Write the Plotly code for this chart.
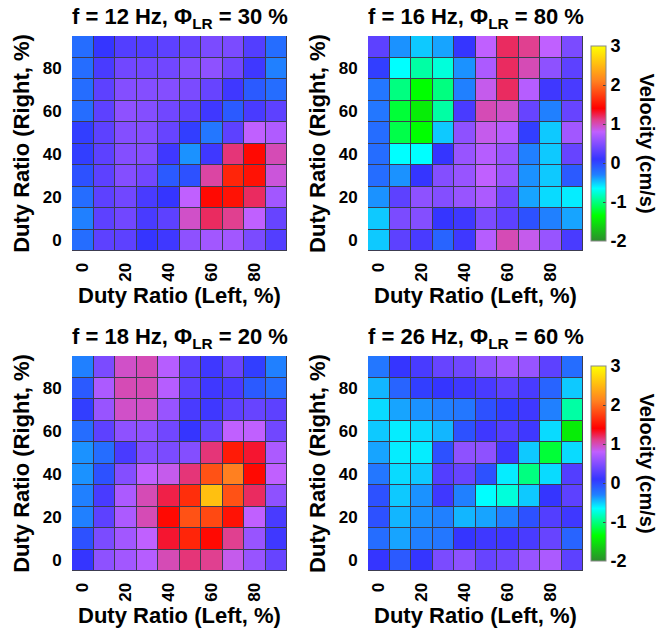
import plotly.graph_objects as go

# Duty ratio grid (cell centres)
duty_left = [0, 10, 20, 30, 40, 50, 60, 70, 80, 90]
duty_right_desc = [90, 80, 70, 60, 50, 40, 30, 20, 10, 0]   # rows listed top -> bottom
tick_vals = [0, 20, 40, 60, 80]
tick_text = ["0", "20", "40", "60", "80"]
cbar_vals = [-2, -1, 0, 1, 2, 3]
cbar_text = ["-2", "-1", "0", "1", "2", "3"]

panel_titles = [
    "f = 12 Hz, Φ<sub>LR</sub> = 30 %",
    "f = 16 Hz, Φ<sub>LR</sub> = 80 %",
    "f = 18 Hz, Φ<sub>LR</sub> = 20 %",
    "f = 26 Hz, Φ<sub>LR</sub> = 60 %",
]

# Velocity (cm/s); each row is one Right duty ratio, from 90 (top) to 0 (bottom)
vel_12hz = [
    [-0.2, 0.1, 0.25, 0.25, 0.3, 0.35, 0.45, 0.45, 0.25, -0.2],
    [-0.2, 0.2, 0.4, 0.4, 0.4, 0.5, 0.55, 0.4, 0.15, -0.3],
    [-0.2, 0.3, 0.5, 0.5, 0.5, 0.45, 0.35, 0.15, -0.1, -0.2],
    [-0.2, 0.3, 0.55, 0.5, 0.4, 0.3, 0.15, -0.1, 0.2, 0.3],
    [0.05, 0.3, 0.5, 0.5, 0.35, 0.05, -0.25, 0.3, 0.8, 0.72],
    [0.05, 0.3, 0.5, 0.5, 0.15, -0.35, 0.15, 1.15, 1.45, 1.0],
    [-0.05, 0.3, 0.5, 0.4, -0.1, -0.05, 1.05, 1.6, 1.5, 0.9],
    [-0.2, 0.3, 0.4, 0.2, 0.1, 0.8, 1.45, 1.5, 1.2, 0.65],
    [-0.3, 0.3, 0.4, 0.2, 0.3, 0.95, 1.2, 1.1, 0.8, 0.35],
    [-0.2, 0.3, 0.3, 0.1, 0.15, 0.55, 0.65, 0.65, 0.45, 0.25],
]

vel_16hz = [
    [0.3, -0.35, -0.5, -0.4, 0.1, 0.8, 1.2, 1.1, 0.8, 0.45],
    [0.05, -0.65, -0.9, -0.75, -0.35, 0.7, 1.2, 1.0, 0.55, 0.3],
    [-0.25, -1.0, -1.35, -1.0, -0.3, 0.85, 1.2, 0.75, 0.15, 0.2],
    [-0.25, -1.2, -1.45, -0.9, 0.2, 1.0, 0.95, 0.35, -0.3, 0.35],
    [-0.2, -1.15, -1.35, -0.5, 0.55, 0.85, 0.75, 0.05, -0.5, 0.65],
    [-0.2, -0.65, -0.65, 0.1, 0.6, 0.75, 0.6, -0.3, -0.5, 0.35],
    [-0.2, -0.35, 0.1, 0.5, 0.6, 0.8, 0.6, -0.35, -0.5, -0.1],
    [-0.35, 0.3, 0.55, 0.5, 0.6, 0.7, 0.4, -0.4, -0.55, -0.6],
    [-0.5, 0.45, 0.5, 0.1, 0.15, 0.45, 0.3, -0.05, -0.3, -0.4],
    [-0.5, 0.3, 0.2, -0.15, 0.15, 0.75, 1.0, 0.85, 0.6, 0.2],
]

vel_18hz = [
    [-0.3, 0.45, 0.95, 1.0, 0.75, 0.3, 0.15, 0.35, 0.05, -0.3],
    [-0.1, 0.7, 1.0, 1.0, 0.75, 0.3, 0.15, 0.2, -0.1, -0.2],
    [0.05, 0.6, 0.95, 0.95, 0.6, 0.2, 0.15, 0.3, 0.35, 0.3],
    [-0.2, 0.3, 0.55, 0.55, 0.4, 0.1, 0.35, 0.8, 0.8, 0.4],
    [-0.35, -0.2, 0.2, 0.5, 0.45, 0.5, 1.15, 1.55, 1.3, 0.7],
    [-0.35, -0.05, 0.5, 0.8, 0.85, 1.15, 1.85, 2.1, 1.45, 0.8],
    [-0.3, 0.2, 0.7, 1.0, 1.25, 1.65, 2.55, 1.85, 1.2, 0.55],
    [-0.3, 0.3, 0.7, 1.0, 1.45, 1.85, 1.8, 1.5, 0.8, 0.2],
    [-0.05, 0.45, 0.65, 0.8, 1.3, 1.6, 1.45, 1.1, 0.6, 0.15],
    [0.1, 0.55, 0.65, 0.75, 1.0, 1.15, 1.1, 0.85, 0.6, 0.35],
]

vel_26hz = [
    [-0.25, 0.1, 0.2, 0.35, 0.4, 0.55, 0.65, 0.6, 0.3, -0.2],
    [-0.45, -0.15, 0.05, 0.1, 0.15, 0.2, 0.3, 0.2, -0.15, -0.5],
    [-0.55, -0.4, -0.35, -0.3, -0.25, -0.05, 0.05, 0.15, -0.3, -0.9],
    [-0.5, -0.6, -0.55, -0.45, -0.05, 0.15, 0.25, 0.15, -0.55, -1.45],
    [-0.4, -0.6, -0.6, -0.05, 0.55, 0.55, 0.15, -0.5, -1.2, -0.55],
    [-0.25, -0.55, -0.5, 0.25, 0.35, -0.05, -0.6, -1.0, -0.55, 0.25],
    [-0.05, -0.5, -0.35, 0.15, -0.3, -0.65, -0.75, -0.5, 0.1, 0.3],
    [-0.05, -0.45, -0.35, -0.3, -0.45, -0.4, -0.3, -0.05, 0.25, 0.15],
    [-0.2, -0.4, -0.3, -0.25, 0.1, 0.15, 0.15, 0.2, 0.35, -0.15],
    [0.1, -0.1, 0.1, 0.45, 0.55, 0.35, 0.4, 0.6, 0.7, 0.3],
]

vmin, vmax = -2, 3
# colour stops given in velocity units
color_stops = [
    (-2.0, "rgb(45,140,45)"),
    (-1.35, "rgb(0,255,0)"),
    (-0.65, "rgb(0,255,255)"),
    (-0.3, "rgb(32,128,255)"),
    (0.1, "rgb(53,53,255)"),
    (0.8, "rgb(192,96,255)"),
    (1.1, "rgb(224,64,144)"),
    (1.4, "rgb(255,0,0)"),
    (2.1, "rgb(255,128,32)"),
    (3.0, "rgb(255,255,0)"),
]
colorscale = [[(v - vmin) / (vmax - vmin), c] for v, c in color_stops]

FONT = "Liberation Sans, Arial, sans-serif"
W, H = 659, 633

def px_x(a, b):
    return [a / W, b / W]

def px_y(top, bottom):
    return [1 - bottom / H, 1 - top / H]

xdoms = [px_x(72, 287), px_x(368, 583), px_x(72, 287), px_x(368, 583)]
ydoms = [px_y(36, 251), px_y(36, 251), px_y(356, 571), px_y(356, 571)]
datasets = [vel_12hz, vel_16hz, vel_18hz, vel_26hz]

fig = go.Figure()
annotations = []
for i, z in enumerate(datasets):
    n = "" if i == 0 else str(i + 1)
    show = i in (1, 3)
    cb = None
    if show:
        yc = sum(ydoms[i]) / 2
        cb = dict(
            x=591 / W, xanchor="left", xpad=0,
            y=yc, yanchor="middle", len=215 / H, lenmode="fraction",
            thickness=15, thicknessmode="pixels",
            outlinewidth=1, outlinecolor="#888",
            tickvals=cbar_vals, ticktext=cbar_text,
            ticks="inside", ticklen=3, tickcolor="#444",
            tickfont=dict(family=FONT, size=18, color="black", weight="bold"),
        )
    fig.add_trace(go.Heatmap(
        x=duty_left, y=duty_right_desc, z=z,
        xaxis="x" + n, yaxis="y" + n,
        colorscale=colorscale, zmin=vmin, zmax=vmax,
        xgap=1, ygap=1, showscale=show, colorbar=cb,
        hoverongaps=False,
    ))
    axfont = dict(family=FONT, size=17, color="black", weight="bold")
    titlefont = dict(family=FONT, size=22, color="black", weight="bold")
    fig.layout["xaxis" + n] = dict(
        domain=xdoms[i], anchor="y" + n, range=[-5, 95],
        tickvals=tick_vals, ticktext=tick_text, tickangle=-90,
        ticks="outside", ticklen=4, tickcolor="rgba(0,0,0,0)",
        tickfont=axfont, showgrid=False, zeroline=False,
        title=dict(text="Duty Ratio (Left, %)", font=titlefont, standoff=6),
    )
    fig.layout["yaxis" + n] = dict(
        domain=ydoms[i], anchor="x" + n, range=[-5, 95],
        tickvals=tick_vals, ticktext=tick_text,
        ticks="outside", ticklen=6, tickcolor="rgba(0,0,0,0)",
        tickfont=axfont, showgrid=False, zeroline=False,
        title=dict(text="Duty Ratio (Right, %)", font=titlefont, standoff=6),
    )
    annotations.append(dict(
        text=panel_titles[i], xref="paper", yref="paper",
        x=sum(xdoms[i]) / 2, y=ydoms[i][1], xanchor="center", yanchor="bottom",
        yshift=2, showarrow=False,
        font=dict(family=FONT, size=22, color="black", weight="bold"),
    ))
    if show:
        annotations.append(dict(
            text="Velocity (cm/s)", xref="paper", yref="paper",
            x=647 / W, y=sum(ydoms[i]) / 2, xanchor="center", yanchor="middle",
            textangle=90, showarrow=False,
            font=dict(family=FONT, size=20, color="black", weight="bold"),
        ))

fig.update_layout(
    width=W, height=H,
    margin=dict(l=0, r=0, t=0, b=0),
    paper_bgcolor="white", plot_bgcolor="#3c3c50",
    annotations=annotations,
)

fig.write_html("out.html")
